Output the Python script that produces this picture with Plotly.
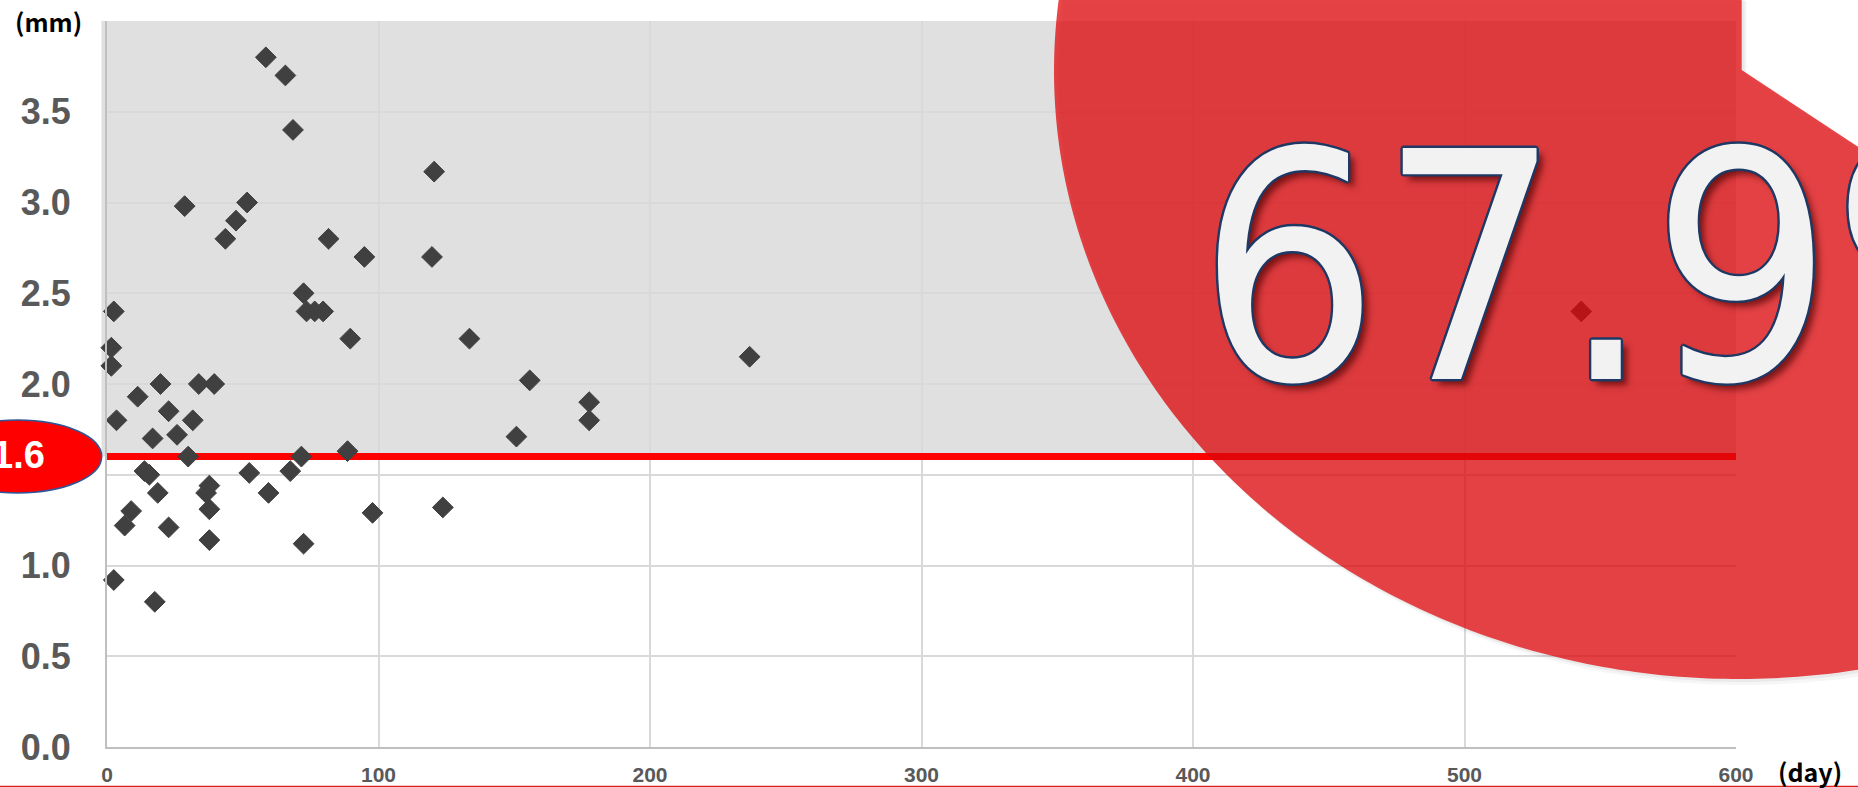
import numpy as np
import plotly.graph_objects as go

# Elapsed days and measured thickness (mm)
days = [58.5, 65.7, 68.5, 120.5, 28.6, 51.6, 47.5, 43.6, 81.6, 94.8,
        119.7, 72.4, 73.5, 76.5, 79.6, 2.5, 89.6, 133.5, 1.6, 1.6,
        19.7, 33.8, 39.5, 11.3, 22.7, 3.5, 31.6, 25.8, 16.8, 29.9,
        88.6, 71.6, 67.5, 13.8, 15.6, 52.4, 37.7, 36.5, 18.7, 59.5,
        37.7, 8.9, 6.5, 22.7, 97.8, 123.7, 37.7, 72.4, 2.5, 17.6,
        155.7, 150.8, 177.6, 177.6, 236.7, 543.0]
thickness = [3.80, 3.70, 3.40, 3.17, 2.98, 3.00, 2.90, 2.80, 2.80, 2.70,
             2.70, 2.50, 2.40, 2.40, 2.40, 2.40, 2.25, 2.25, 2.20, 2.10,
             2.00, 2.00, 2.00, 1.93, 1.85, 1.80, 1.80, 1.72, 1.70, 1.60,
             1.63, 1.60, 1.52, 1.52, 1.50, 1.51, 1.44, 1.40, 1.40, 1.40,
             1.31, 1.30, 1.22, 1.21, 1.29, 1.32, 1.14, 1.12, 0.92, 0.80,
             2.02, 1.71, 1.90, 1.80, 2.15, 2.40]

THRESHOLD = 1.6
x_ticks = [0, 100, 200, 300, 400, 500, 600]
y_ticks = [0.0, 0.5, 1.0, 1.5, 2.0, 2.5, 3.0, 3.5]
X_MAX, Y_MAX = 600, 4.0

share = sum(v >= THRESHOLD for v in thickness) / len(thickness) * 100
share_text = f"{share:.1f}%"

# page geometry (pixels) and helpers to place decorations in paper units
W, H = 1858, 788
ML, MR, MT, MB = 107, 122, 21, 41
PW, PH = W - ML - MR, H - MT - MB


def fx(px):
    return (px - ML) / PW


def fy(py):
    return (H - MB - py) / PH


def path_from(points):
    return "M " + " L ".join(f"{fx(x):.5f},{fy(y):.5f}" for x, y in points) + " Z"


# big highlight badge: an ellipse with a notch cut at the upper right
cx, cy, rx, ry = 1739, 71, 685, 608
t_start = np.pi + np.arcsin((cy + 5) / ry)
t_end = np.arccos((1870 - cx) / rx)
ts = np.linspace(t_start, t_end, 160)
badge = [(cx + rx * np.cos(t), cy + ry * np.sin(t)) for t in ts]
badge += [(1870, 70 + (1870 - 1741.7) * 76.7 / 116.3), (1741.7, 70), (1741.7, -5)]


def shifted(pts, dx, dy):
    return [(x + dx, y + dy) for x, y in pts]


fig = go.Figure()

# threshold line
fig.add_trace(go.Scatter(
    x=[-2, X_MAX], y=[THRESHOLD, THRESHOLD], mode="lines",
    line=dict(color="#ff0000", width=7), cliponaxis=False,
    hoverinfo="skip", showlegend=False))

# measurements
fig.add_trace(go.Scatter(
    x=days, y=thickness, mode="markers",
    marker=dict(symbol="diamond", size=16, color="#404040",
                line=dict(color="#404040", width=1)),
    cliponaxis=False, showlegend=False))

shapes = [
    # shaded band above the threshold
    dict(type="rect", xref="paper", yref="y", x0=fx(101.5), x1=1.0,
         y0=THRESHOLD, y1=Y_MAX, fillcolor="#e0e0e0", line_width=0, layer="below"),
    # soft shadow of the badge
    dict(type="path", xref="paper", yref="paper", path=path_from(shifted(badge, 5, 6)),
         fillcolor="rgba(0,0,0,0.035)", line_width=0, layer="above"),
    dict(type="path", xref="paper", yref="paper", path=path_from(shifted(badge, 3, 3)),
         fillcolor="rgba(0,0,0,0.05)", line_width=0, layer="above"),
    # badge
    dict(type="path", xref="paper", yref="paper", path=path_from(badge),
         fillcolor="rgba(224,8,12,0.75)", line_width=0, layer="above"),
    # threshold value bubble
    dict(type="circle", xref="paper", yref="paper",
         x0=fx(-66), x1=fx(101.7), y0=fy(493), y1=fy(420),
         fillcolor="#ff0000", line=dict(color="#2f5597", width=1.5), layer="above"),
    # thin rule along the bottom edge
    dict(type="line", xref="paper", yref="paper", x0=fx(0), x1=fx(W),
         y0=fy(786.5), y1=fy(786.5), line=dict(color="#e02020", width=1.5), layer="above"),
]

outline = "#1f3864"
text_shadow = ", ".join([
    f"2.4px 0 0 {outline}", f"-2.4px 0 0 {outline}", f"0 2.4px 0 {outline}", f"0 -2.4px 0 {outline}",
    f"1.7px 1.7px 0 {outline}", f"-1.7px 1.7px 0 {outline}",
    f"1.7px -1.7px 0 {outline}", f"-1.7px -1.7px 0 {outline}",
    "6px 6px 6px rgba(70,0,0,0.65)",
])

annotations = [
    dict(text=share_text, xref="paper", yref="paper", x=fx(1196), y=fy(269),
         xanchor="left", yanchor="middle", showarrow=False,
         font=dict(family="Liberation Sans Narrow, Arial Narrow, DejaVu Sans Condensed, sans-serif",
                   size=317, color="#f2f2f2", shadow=text_shadow)),
    dict(text=f"{THRESHOLD:.1f}", xref="paper", yref="paper", x=fx(18), y=fy(455),
         xanchor="center", yanchor="middle", showarrow=False,
         font=dict(family="Liberation Sans, Arial, sans-serif", size=38, color="#ffffff",
                   weight="bold")),
    dict(text="<b>(mm)</b>", xref="paper", yref="paper", x=fx(48), y=fy(21.5),
         xanchor="center", yanchor="middle", showarrow=False,
         font=dict(family="Noto Sans CJK JP, sans-serif", size=25, color="#000000")),
    dict(text="<b>(day)</b>", xref="paper", yref="paper", x=fx(1810), y=fy(771),
         xanchor="center", yanchor="middle", showarrow=False,
         font=dict(family="Noto Sans CJK JP, sans-serif", size=25, color="#000000")),
]

fig.update_layout(
    width=W, height=H,
    margin=dict(l=ML, r=MR, t=MT, b=MB, pad=0),
    paper_bgcolor="#ffffff", plot_bgcolor="#ffffff",
    shapes=shapes, annotations=annotations, showlegend=False,
    xaxis=dict(range=[0, X_MAX], tickvals=x_ticks, ticktext=[str(v) for v in x_ticks],
               showgrid=True, gridcolor="#d9d9d9", gridwidth=1.5,
               showline=True, linecolor="#bfbfbf", linewidth=2,
               zeroline=False, ticks="", ticklabelstandoff=8, automargin=False,
               tickfont=dict(family="Liberation Sans, Arial, sans-serif", size=21, color="#595959",
                             weight="bold")),
    yaxis=dict(range=[0, Y_MAX], tickvals=y_ticks, ticktext=[f"{v:.1f}" for v in y_ticks],
               showgrid=True, gridcolor="#d9d9d9", gridwidth=1.5,
               showline=True, linecolor="#bfbfbf", linewidth=2,
               zeroline=False, ticks="", ticklabelstandoff=27, automargin=False,
               tickfont=dict(family="Liberation Sans, Arial, sans-serif", size=36, color="#595959",
                             weight="bold")),
)

fig.write_html("out.html")
